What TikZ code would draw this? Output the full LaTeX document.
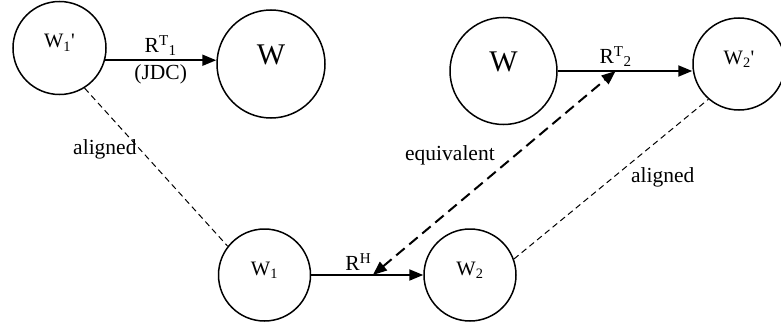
\documentclass[tikz,border=0pt]{standalone}
\usepackage{fontspec}
\setmainfont{Liberation Serif}
\usetikzlibrary{arrows.meta}

\tikzset{
  state/.style={circle,draw,line width=1.5pt,inner sep=0pt,text height=8pt,text depth=8pt,font=\fontsize{20.5}{24}\selectfont},
  bigstate/.style={state,font=\fontsize{30}{34}\selectfont},
  rel/.style={line width=2pt,-{Triangle[length=14pt,width=11pt]}},
  equiv/.style={line width=2pt,dash pattern=on 11pt off 6pt,{Triangle[length=14pt,width=11pt]}-{Triangle[length=14pt,width=11pt]}},
  alignline/.style={line width=1pt,dash pattern=on 6pt off 4pt},
  lbl/.style={font=\fontsize{21.5}{25}\selectfont}
}

\begin{document}
\begin{tikzpicture}[x=1pt,y=-1pt]
\useasboundingbox (0,0) rectangle (781,329);
% top row
\node[state,minimum size=93pt] (w1p) at (59.5,48) {W\textsubscript{1}\textquotesingle};
\node[bigstate,minimum size=108pt] (wa) at (271,64) {W};
\node[bigstate,minimum size=107pt] (wb) at (503.5,71) {W};
\node[state,minimum size=92pt] (w2p) at (739,64) {W\textsubscript{2}\textquotesingle};
% bottom row
\node[state,minimum size=92pt] (w1) at (264.5,275) {W\textsubscript{1}};
\node[state,minimum size=92pt] (w2) at (470,275) {W\textsubscript{2}};

\draw[rel] (w1p.-15) -- (w1p.-15 -| wa.west)
  node[midway,above,lbl] {R\textsuperscript{T}\textsubscript{1}}
  node[midway,below,lbl] {(JDC)};
\draw[rel] (wb.east) -- coordinate[pos=0.43] (rt2) (wb.east -| w2p.west)
  node[pos=0.43,above,lbl] {R\textsuperscript{T}\textsubscript{2}};
\draw[rel] (w1) -- coordinate[pos=0.55] (rh) (w2)
  node[pos=0.42,above,lbl] {R\textsuperscript{H}};

\draw[equiv] (rh) -- (rt2) node[pos=0.52,above left=0pt,lbl] {equivalent};
\draw[alignline] (w1p.-58) -- (w1.142) node[pos=0.39,left,lbl] {aligned};
\draw[alignline] (w2.20) -- (w2p.229) node[pos=0.59,anchor=north west,inner sep=2pt,lbl] {aligned};
\end{tikzpicture}
\end{document}
